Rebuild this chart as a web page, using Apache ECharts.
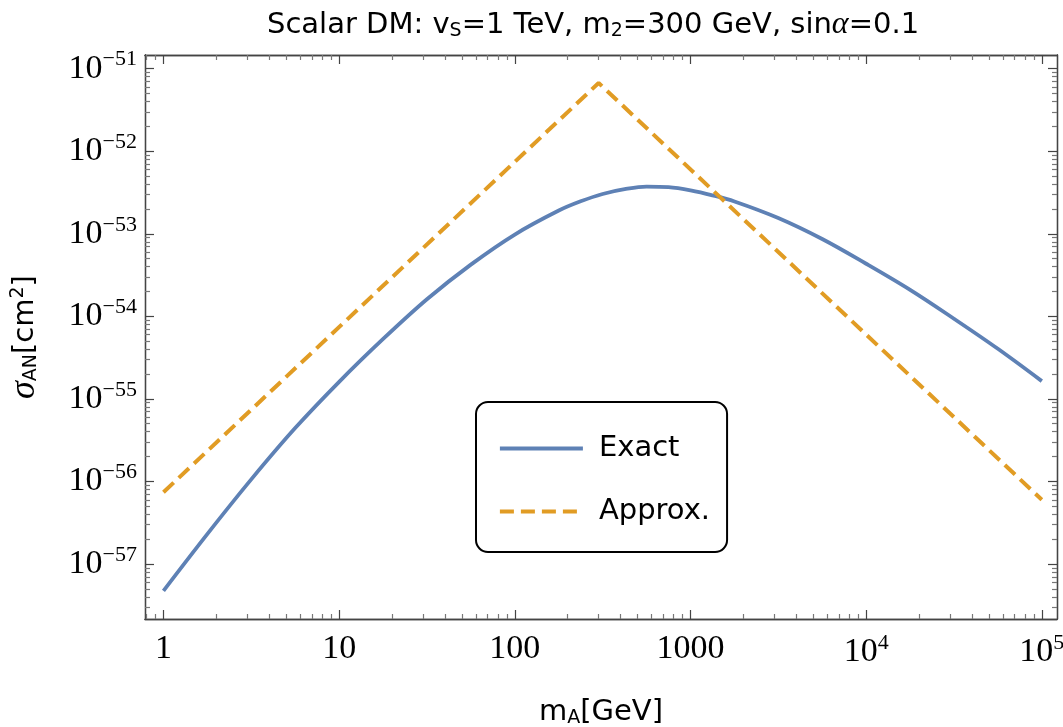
<!DOCTYPE html>
<html>
<head>
<meta charset="utf-8">
<script src="https://cdn.jsdelivr.net/npm/echarts@6/dist/echarts.min.js"></script>
<style>
  html, body { margin: 0; padding: 0; background: #fff; }
  #chart { width: 1063px; height: 727px; }
</style>
</head>
<body>
<div id="chart"></div>
<script>
  // m_A in GeV, sigma in cm^2
  const exactMass = [1, 1.78, 3.16, 5.62, 10, 17.8, 31.6, 56.2, 100, 178, 237, 316, 422, 562, 750, 1000, 1334, 1780, 3160, 5620, 10000, 17800, 31600, 56200, 100000];
  const exactSigma = [4.74e-58, 2.32e-57, 1.06e-56, 4.43e-56, 1.61e-55, 5.32e-55, 1.61e-54, 4.23e-54, 9.79e-54, 1.91e-53, 2.47e-53, 3.03e-53, 3.46e-53, 3.72e-53, 3.66e-53, 3.35e-53, 2.92e-53, 2.46e-53, 1.55e-53, 8.63e-54, 4.33e-54, 2.09e-54, 9.35e-55, 4.04e-55, 1.64e-55];
  const approxMass = [1, 300, 100000];
  const approxSigma = [7.4e-57, 6.7e-52, 6.0e-57];

  const xTickLabels = ['1', '10', '100', '1000', '10^4', '10^5'];
  const xTickExp = [0, 1, 2, 3, 4, 5];
  const yTickLabels = ['10^\u221257', '10^\u221256', '10^\u221255', '10^\u221254', '10^\u221253', '10^\u221252', '10^\u221251'];
  const yTickExp = [-57, -56, -55, -54, -53, -52, -51];

  const xMin = Math.log10(0.785), xMax = Math.log10(1.22e5);
  const yMin = -57.666, yMax = -50.835;

  const frameColor = '#444';
  const serif = "'Liberation Serif', serif";
  const sans = "'DejaVu Sans', sans-serif";

  function minorTicks(lo, hi) {
    let out = [];
    for (let n = Math.floor(lo); n <= Math.ceil(hi); n++) {
      for (let k = 2; k <= 9; k++) {
        let v = n + Math.log10(k);
        if (v > lo && v < hi) out.push(v);
      }
    }
    return out;
  }

  function fmtPow(labels, exps) {
    return function (val) {
      let i = exps.findIndex(e => Math.abs(e - val) < 1e-6);
      if (i < 0) return '';
      let parts = labels[i].split('^');
      return parts.length > 1 ? '{b|' + parts[0] + '}{s|' + parts[1] + '}' : '{b|' + parts[0] + '}';
    };
  }

  const labelRich = {
    b: { fontFamily: serif, fontSize: 34, color: '#000' },
    s: { fontFamily: serif, fontSize: 22, color: '#000', padding: [0, 0, 18, 0] }
  };

  function axis(pos, min, max, ticks, len, color, extra) {
    return Object.assign({
      type: 'value', position: pos, min: min, max: max,
      axisLine: { show: true, onZero: false, lineStyle: { color: frameColor, width: 1.3 } },
      axisTick: { show: true, inside: true, length: len, customValues: ticks, lineStyle: { color: color, width: 1.2 } },
      axisLabel: { show: false },
      splitLine: { show: false }
    }, extra || {});
  }

  const xMinor = minorTicks(xMin, xMax);
  const yMinor = minorTicks(yMin, yMax);

  const chart = echarts.init(document.getElementById('chart'));
  chart.setOption({
    animation: false,
    title: {
      text: 'Scalar DM: v{sub|S}=1 TeV, m{sub|2}=300 GeV, sin{it|α}=0.1',
      left: 262, top: 4,
      textStyle: {
        fontFamily: sans, fontSize: 29, fontWeight: 'normal', color: '#000',
        rich: {
          sub: { fontFamily: sans, fontSize: 19, color: '#000', padding: [12, 0, 0, 0] },
          it: { fontFamily: serif, fontSize: 32, fontStyle: 'italic', color: '#000' }
        }
      }
    },
    grid: { left: 145, right: 6, top: 55, bottom: 108, containLabel: false, outerBoundsMode: 'none' },
    legend: {
      left: 476, top: 402, orient: 'vertical',
      padding: [32, 17, 26, 22],
      itemWidth: 83, itemHeight: 30, itemGap: 34,
      borderColor: '#000', borderWidth: 2, borderRadius: 12,
      backgroundColor: '#fff',
      itemStyle: { opacity: 0 },
      lineStyle: { width: 3.8 },
      textStyle: { fontFamily: sans, fontSize: 29, color: '#000', padding: [0, 0, 0, 11] },
      data: ['Exact', 'Approx.']
    },
    xAxis: [
      axis('bottom', xMin, xMax, xTickExp, 9, frameColor, {
        axisLabel: { show: true, customValues: xTickExp, margin: 13, formatter: fmtPow(xTickLabels, xTickExp), rich: labelRich },
        name: 'm{sub|A}[GeV]', nameLocation: 'middle', nameGap: 78,
        nameTextStyle: {
          fontFamily: sans, fontSize: 29, color: '#000',
          rich: { sub: { fontFamily: sans, fontSize: 19, color: '#000', padding: [12, 0, 0, 0] } }
        }
      }),
      axis('bottom', xMin, xMax, xMinor, 5, '#777'),
      axis('top', xMin, xMax, xTickExp, 9, frameColor),
      axis('top', xMin, xMax, xMinor, 5, '#777')
    ],
    yAxis: [
      axis('left', yMin, yMax, yTickExp, 9, frameColor, {
        axisLabel: { show: true, customValues: yTickExp, margin: 8, formatter: fmtPow(yTickLabels, yTickExp), rich: labelRich },
        name: '{it|σ}{sub|AN}[cm{sup|2}]', nameLocation: 'middle', nameGap: 102, nameRotate: 90,
        nameTextStyle: {
          fontFamily: sans, fontSize: 29, color: '#000',
          rich: {
            it: { fontFamily: serif, fontSize: 36, fontStyle: 'italic', color: '#000' },
            sub: { fontFamily: sans, fontSize: 19, color: '#000', padding: [12, 0, 0, 0] },
            sup: { fontFamily: sans, fontSize: 19, color: '#000', padding: [0, 0, 14, 0] }
          }
        }
      }),
      axis('left', yMin, yMax, yMinor, 5, '#777'),
      axis('right', yMin, yMax, yTickExp, 9, frameColor),
      axis('right', yMin, yMax, yMinor, 5, '#777')
    ],
    series: [
      {
        name: 'Exact', type: 'line', xAxisIndex: 0, yAxisIndex: 0,
        showSymbol: false, symbol: 'none', smooth: 0.35,
        lineStyle: { color: '#5E81B5', width: 3.8 },
        itemStyle: { color: '#5E81B5' },
        data: exactMass.map((m, i) => [Math.log10(m), Math.log10(exactSigma[i])])
      },
      {
        name: 'Approx.', type: 'line', xAxisIndex: 0, yAxisIndex: 0,
        showSymbol: false, symbol: 'none',
        lineStyle: { color: '#E19C24', width: 4, type: [14, 7] },
        itemStyle: { color: '#E19C24' },
        data: approxMass.map((m, i) => [Math.log10(m), Math.log10(approxSigma[i])])
      }
    ]
  });
</script>
</body>
</html>
